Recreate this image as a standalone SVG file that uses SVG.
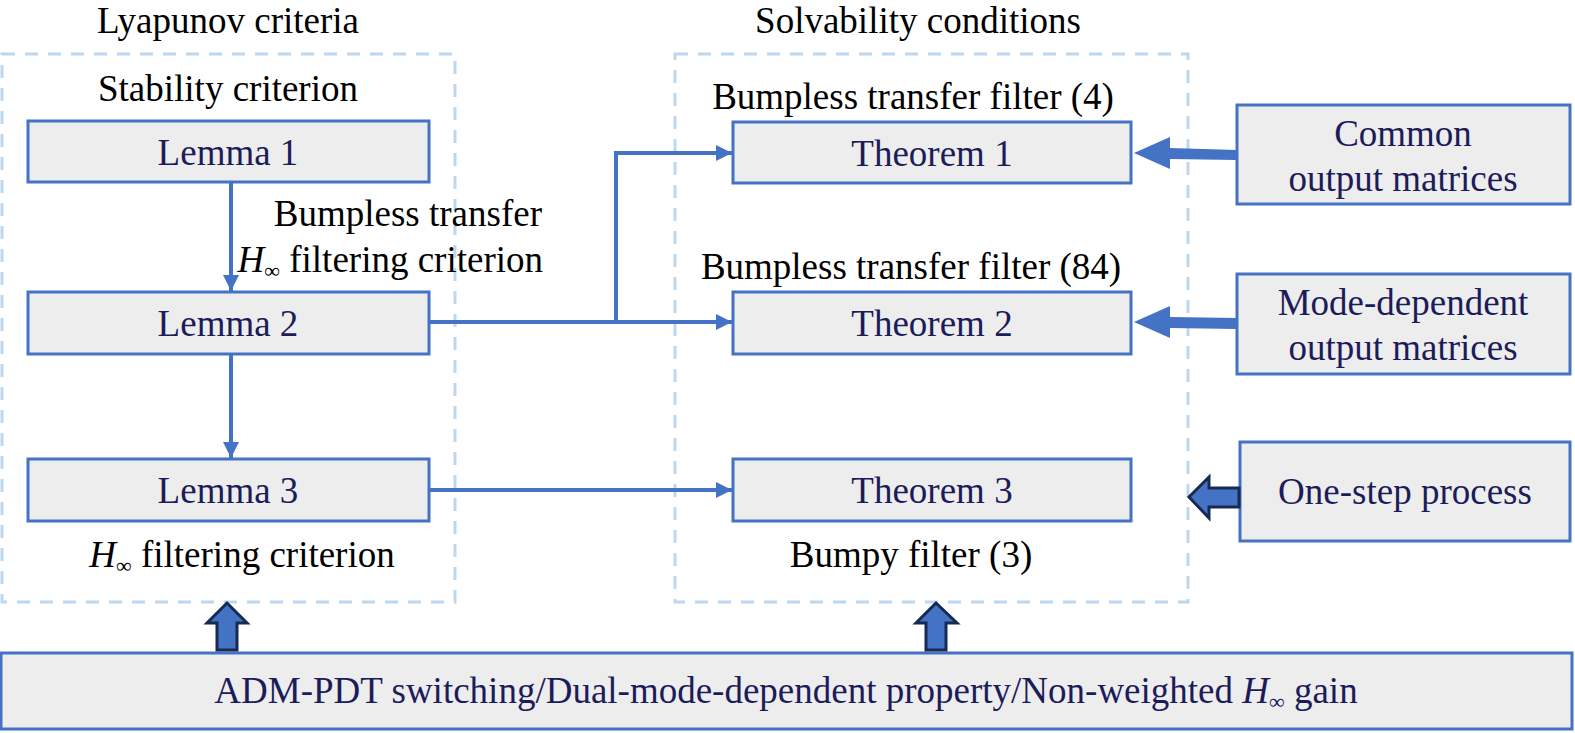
<svg xmlns="http://www.w3.org/2000/svg" width="1575" height="733" viewBox="0 0 1575 733">
<style>
text{font-family:"Liberation Serif","Times New Roman",serif;font-size:37px;}
.lbl{fill:#000;}
.in{fill:#1c1c5a;text-anchor:middle;}
.box{fill:#ededed;stroke:#4472c4;stroke-width:3;}
.dash{fill:none;stroke:#bdd7ee;stroke-width:3;stroke-dasharray:13 10;}
.con{fill:none;stroke:#4472c4;stroke-width:4;}
.blk{fill:#4472c4;stroke:#172b52;stroke-width:3;stroke-linejoin:miter;}
</style>
<defs>
<marker id="ah" viewBox="0 0 10 10" refX="10" refY="5" markerWidth="4.5" markerHeight="4" markerUnits="strokeWidth" orient="auto">
<path d="M0,0 L10,5 L0,10 z" fill="#4472c4"/>
</marker>
</defs>
<rect width="1575" height="733" fill="#fff"/>
<g id="groups">
<rect class="dash" x="2" y="54" width="453" height="548"/>
<rect class="dash" x="675" y="54" width="513" height="548"/>
<text class="lbl" x="228" y="33" text-anchor="middle">Lyapunov criteria</text>
<text class="lbl" x="918" y="33" text-anchor="middle">Solvability conditions</text>
<text class="lbl" x="228" y="101" text-anchor="middle">Stability criterion</text>
<text class="lbl" x="542" y="226" text-anchor="end">Bumpless transfer</text>
<text class="lbl" x="543" y="272" text-anchor="end"><tspan font-style="italic">H</tspan><tspan font-size="22" dy="6">∞</tspan><tspan dy="-6"> filtering criterion</tspan></text>
<text class="lbl" x="242" y="567" text-anchor="middle"><tspan font-style="italic">H</tspan><tspan font-size="22" dy="6">∞</tspan><tspan dy="-6"> filtering criterion</tspan></text>
<text class="lbl" x="913" y="109" text-anchor="middle">Bumpless transfer filter (4)</text>
<text class="lbl" x="911" y="279" text-anchor="middle">Bumpless transfer filter (84)</text>
<text class="lbl" x="911" y="567" text-anchor="middle">Bumpy filter (3)</text>
</g>
<g id="lemma1"><rect class="box" x="28" y="121" width="401" height="61"/><text class="in" x="228" y="165">Lemma 1</text></g>
<g id="lemma2"><rect class="box" x="28" y="292" width="401" height="62"/><text class="in" x="228" y="336">Lemma 2</text></g>
<g id="lemma3"><rect class="box" x="28" y="459" width="401" height="62"/><text class="in" x="228" y="503">Lemma 3</text></g>
<g id="theorem1"><rect class="box" x="733" y="122" width="398" height="61"/><text class="in" x="932" y="166">Theorem 1</text></g>
<g id="theorem2"><rect class="box" x="733" y="292" width="398" height="62"/><text class="in" x="932" y="336">Theorem 2</text></g>
<g id="theorem3"><rect class="box" x="733" y="459" width="398" height="62"/><text class="in" x="932" y="503">Theorem 3</text></g>
<g id="common"><rect class="box" x="1237" y="105" width="333" height="99"/><text class="in" x="1403" y="146">Common</text><text class="in" x="1403" y="191">output matrices</text></g>
<g id="modedep"><rect class="box" x="1237" y="274" width="333" height="100"/><text class="in" x="1403" y="315">Mode-dependent</text><text class="in" x="1403" y="360">output matrices</text></g>
<g id="onestep"><rect class="box" x="1240" y="442" width="330" height="99"/><text class="in" x="1405" y="504">One-step process</text></g>
<g id="bottom"><rect class="box" x="1" y="653" width="1571" height="76"/><text class="in" x="786" y="703">ADM-PDT switching/Dual-mode-dependent property/Non-weighted <tspan font-style="italic">H</tspan><tspan font-size="22" dy="6">∞</tspan><tspan dy="-6"> gain</tspan></text></g>
<g id="connectors">
<line class="con" x1="231" y1="183" x2="231" y2="291" marker-end="url(#ah)"/>
<line class="con" x1="231" y1="355" x2="231" y2="458" marker-end="url(#ah)"/>
<polyline class="con" points="429,322 616,322 616,153 732,153" marker-end="url(#ah)"/>
<line class="con" x1="616" y1="322" x2="732" y2="322" marker-end="url(#ah)"/>
<line class="con" x1="429" y1="490" x2="732" y2="490" marker-end="url(#ah)"/>
<path d="M1237,150 L1170,148 L1170,137 L1134,153 L1170,169 L1170,159 L1237,160 z" fill="#4472c4"/>
<path d="M1237,318 L1170,317 L1170,306 L1134,322 L1170,338 L1170,328 L1237,329 z" fill="#4472c4"/>
<path class="blk" d="M1239,488 L1209,488 L1209,477 L1189,497 L1209,518 L1209,507 L1239,507 z"/>
<path class="blk" d="M217,650 L217,623 L207,623 L227,603 L247,623 L237,623 L237,650 z"/>
<path class="blk" d="M926,650 L926,623 L916,623 L936,603 L957,623 L946,623 L946,650 z"/>
</g>
</svg>
